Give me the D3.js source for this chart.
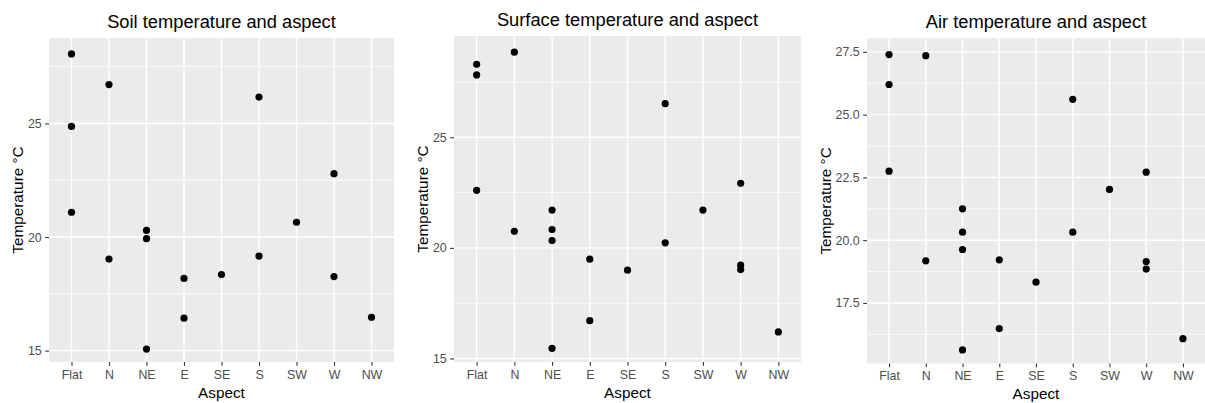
<!DOCTYPE html>
<html>
<head>
<meta charset="utf-8">
<script src="https://cdn.jsdelivr.net/npm/d3@7"></script>
<style>
  body { margin: 0; background: #ffffff; }
  text { font-family: "Liberation Sans", Arial, sans-serif; }
</style>
</head>
<body>
<svg id="chart"></svg>
<script>
// Aspect categories (x axis, same for all three plots)
var aspects = ["Flat", "N", "NE", "E", "SE", "S", "SW", "W", "NW"];

// Soil temperature readings, [aspect, degrees C]
var soilPoints = [
    ["Flat", 28.06], ["Flat", 24.87], ["Flat", 21.09],
    ["N", 26.71], ["N", 19.03],
    ["NE", 20.29], ["NE", 19.93], ["NE", 15.07],
    ["E", 18.18], ["E", 16.43],
    ["SE", 18.35],
    ["S", 26.16], ["S", 19.16],
    ["SW", 20.65],
    ["W", 22.79], ["W", 18.26],
    ["NW", 16.47]
];

// Surface temperature readings
var surfacePoints = [
    ["Flat", 28.30], ["Flat", 27.82], ["Flat", 22.60],
    ["N", 28.85], ["N", 20.75],
    ["NE", 21.71], ["NE", 20.83], ["NE", 20.33], ["NE", 15.46],
    ["E", 19.49], ["E", 16.71],
    ["SE", 18.99],
    ["S", 26.52], ["S", 20.23],
    ["SW", 21.71],
    ["W", 22.92], ["W", 19.22], ["W", 19.02],
    ["NW", 16.20]
];

// Air temperature readings
var airPoints = [
    ["Flat", 27.39], ["Flat", 26.20], ["Flat", 22.75],
    ["N", 27.35], ["N", 19.18],
    ["NE", 21.25], ["NE", 20.32], ["NE", 19.63], ["NE", 15.63],
    ["E", 19.22], ["E", 16.48],
    ["SE", 18.33],
    ["S", 25.61], ["S", 20.32],
    ["SW", 22.02],
    ["W", 22.71], ["W", 19.15], ["W", 18.85],
    ["NW", 16.08]
];

// Y axis ranges and tick values
var soilDomain = [14.5, 28.76];
var surfaceDomain = [14.84, 29.58];
var airDomain = [15.09, 28.04];

var soilTicks = [15, 20, 25];
var surfaceTicks = [15, 20, 25];
var airTicks = [17.5, 20, 22.5, 25, 27.5];

var soilMinor = [17.5, 22.5, 27.5];
var surfaceMinor = [17.5, 22.5, 27.5];
var airMinor = [16.25, 18.75, 21.25, 23.75, 26.25];

var titles = ["Soil temperature and aspect", "Surface temperature and aspect", "Air temperature and aspect"];

// Set up the svg
var svg = d3.select("#chart")
    .attr("width", 1205)
    .attr("height", 403);

// Panel boxes (left, top, right, bottom)
drawPanel({ left: 49, top: 38, right: 394, bottom: 362 },
    titles[0], soilPoints, soilDomain, soilTicks, soilMinor, d3.format("d"));
drawPanel({ left: 454, top: 36, right: 801, bottom: 362 },
    titles[1], surfacePoints, surfaceDomain, surfaceTicks, surfaceMinor, d3.format("d"));
drawPanel({ left: 867, top: 38.3, right: 1205, bottom: 363.5 },
    titles[2], airPoints, airDomain, airTicks, airMinor, d3.format(".1f"));

// Function to draw one ggplot-like panel
function drawPanel(box, title, points, domain, ticks, minorTicks, fmt) {
    const g = svg.append("g");

    const xScale = d3.scalePoint()
        .domain(aspects)
        .range([box.left, box.right])
        .padding(0.6);

    const yScale = d3.scaleLinear()
        .domain(domain)
        .range([box.bottom, box.top]);

    // Grey panel background
    g.append("rect")
        .attr("x", box.left)
        .attr("y", box.top)
        .attr("width", box.right - box.left)
        .attr("height", box.bottom - box.top)
        .attr("fill", "#ebebeb");

    // Minor grid lines
    g.selectAll(".minor")
        .data(minorTicks)
        .enter().append("line")
        .attr("x1", box.left)
        .attr("x2", box.right)
        .attr("y1", d => yScale(d))
        .attr("y2", d => yScale(d))
        .attr("stroke", "#ffffff")
        .attr("stroke-width", 0.75);

    // Major grid lines, horizontal then vertical
    g.selectAll(".hmajor")
        .data(ticks)
        .enter().append("line")
        .attr("x1", box.left)
        .attr("x2", box.right)
        .attr("y1", d => yScale(d))
        .attr("y2", d => yScale(d))
        .attr("stroke", "#ffffff")
        .attr("stroke-width", 1.4);

    g.selectAll(".vmajor")
        .data(aspects)
        .enter().append("line")
        .attr("x1", d => xScale(d))
        .attr("x2", d => xScale(d))
        .attr("y1", box.top)
        .attr("y2", box.bottom)
        .attr("stroke", "#ffffff")
        .attr("stroke-width", 1.4);

    // X axis
    const xAxis = g.append("g")
        .attr("transform", "translate(0," + box.bottom + ")")
        .call(d3.axisBottom(xScale).tickSize(3.8).tickPadding(4));
    styleAxis(xAxis);
    xAxis.selectAll("text").attr("dy", "0.71em");

    // Y axis
    const yAxis = g.append("g")
        .attr("transform", "translate(" + box.left + ",0)")
        .call(d3.axisLeft(yScale).tickValues(ticks).tickFormat(fmt).tickSize(3.8).tickPadding(3.5));
    styleAxis(yAxis);

    // Points
    g.selectAll("circle")
        .data(points)
        .enter().append("circle")
        .attr("cx", d => xScale(d[0]))
        .attr("cy", d => yScale(d[1]))
        .attr("r", 3.6)
        .style("fill", "#000000");

    // Title
    g.append("text")
        .attr("x", (box.left + box.right) / 2)
        .attr("y", box.top - 10)
        .attr("text-anchor", "middle")
        .attr("font-size", "18.3px")
        .attr("fill", "#000000")
        .text(title);

    // X axis label
    g.append("text")
        .attr("x", (box.left + box.right) / 2)
        .attr("y", box.bottom + 35.5)
        .attr("text-anchor", "middle")
        .attr("font-size", "15.3px")
        .attr("fill", "#000000")
        .text("Aspect");

    // Y axis label goes just left of the widest tick label
    let labelLeft = box.left;
    yAxis.selectAll("text").each(function() {
        const bb = this.getBBox();
        labelLeft = Math.min(labelLeft, box.left + bb.x);
    });
    const titleX = labelLeft - 4.5;
    g.append("text")
        .attr("transform", "translate(" + titleX + "," + ((box.top + box.bottom) / 2) + ") rotate(-90)")
        .attr("text-anchor", "middle")
        .attr("font-size", "15.3px")
        .attr("fill", "#000000")
        .text("Temperature °C");
}

// ggplot grey theme for axis pieces
function styleAxis(axis) {
    axis.select(".domain").remove();
    axis.selectAll(".tick line")
        .attr("stroke", "#333333")
        .attr("stroke-width", 1.1);
    axis.selectAll(".tick text")
        .attr("fill", "#4d4d4d")
        .attr("font-size", "12.4px")
        .attr("font-family", "Liberation Sans, Arial, sans-serif");
}
</script>
</body>
</html>
